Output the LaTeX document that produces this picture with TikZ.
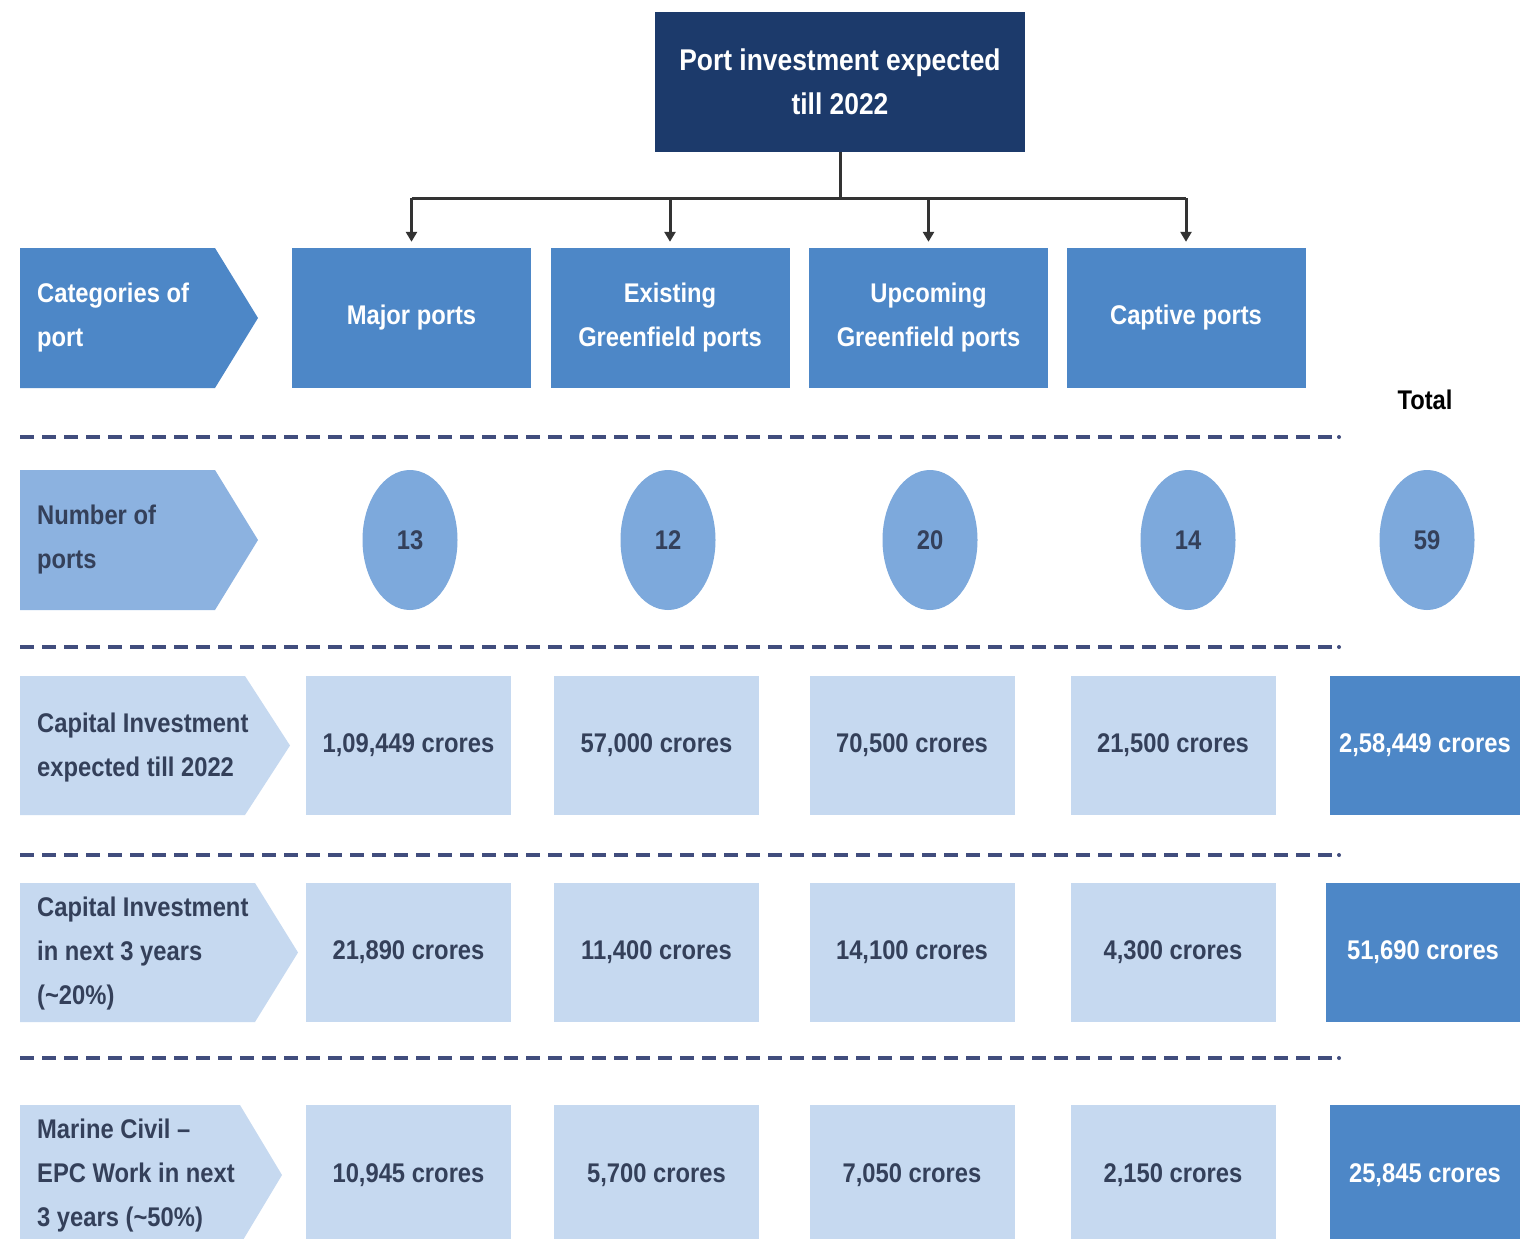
\documentclass[tikz,border=0pt]{standalone}
\usepackage{fontspec}
\setmainfont{Liberation Sans}[FakeStretch=0.88]
\usetikzlibrary{shapes.geometric,arrows.meta}
\definecolor{navy}{HTML}{1C3A6B}
\definecolor{midblue}{HTML}{4D87C7}
\definecolor{rowtwo}{HTML}{8CB2E0}
\definecolor{ellblue}{HTML}{7DA9DC}
\definecolor{lightblue}{HTML}{C6D9F0}
\definecolor{darktxt}{HTML}{34405A}
\definecolor{dashcol}{HTML}{414D7D}
\definecolor{conn}{HTML}{333333}
\begin{document}
\begin{tikzpicture}[x=1pt,y=-1pt,
  font=\fontsize{27}{44}\selectfont\bfseries,
  topbox/.style={fill=navy,text=white,minimum width=370pt,minimum height=140pt,align=center,inner sep=0pt,font=\fontsize{30}{44}\selectfont\bfseries},
  catbox/.style={fill=midblue,text=white,minimum width=239pt,minimum height=140pt,align=center,inner sep=0pt},
  numell/.style={ellipse,fill=ellblue,text=darktxt,minimum width=95pt,minimum height=140pt,inner sep=0pt},
  databox/.style={fill=lightblue,text=darktxt,minimum width=205pt,minimum height=139pt,inner sep=0pt},
  totbox/.style={fill=midblue,text=white,minimum height=139pt,inner sep=0pt},
  rowlbl/.style={anchor=west,align=left,inner sep=0pt},
  sep/.style={dashcol,line width=4pt,dash pattern=on 14pt off 8pt},
  conline/.style={conn,line width=3pt},
  conarrow/.style={conn,line width=3pt,-{Triangle[length=10pt,width=11pt]},shorten >=6pt}
]
\useasboundingbox (0,0) rectangle (1520,1239);
\fill[white] (0,0) rectangle (1520,1239);

% top
\node[topbox] (top) at (840,82) {Port investment expected\\till 2022};

% categories row
\fill[midblue] (20,248) -- (215,248) -- (258,318) -- (215,388) -- (20,388) -- cycle;
\node[rowlbl,text=white] (catlbl) at (37,318) {Categories of\\port};
\node[catbox] (major) at (411.5,318) {Major ports};
\node[catbox] (existing) at (670,318) {Existing\\Greenfield ports};
\node[catbox] (upcoming) at (928.5,318) {Upcoming\\Greenfield ports};
\node[catbox] (captive) at (1186,318) {Captive ports};

\coordinate (junc) at (840,198);
\draw[conline] (top.south) -- (junc);
\draw[conline] (major.north |- junc) -- (captive.north |- junc);
\foreach \n in {major,existing,upcoming,captive}
  \draw[conarrow] (\n.north |- junc) -- (\n.north);

\node (total) at (1425,400) {Total};

\draw[sep] (20,437) -- (1336,437);
\fill[dashcol] (1339,437) circle (2pt);

% number row
\fill[rowtwo] (20,470) -- (215,470) -- (258,540) -- (215,610) -- (20,610) -- cycle;
\node[rowlbl,text=darktxt] (numlbl) at (37,540) {Number of\\ports};
\node[numell] (n1) at (410,540) {13};
\node[numell] (n2) at (668,540) {12};
\node[numell] (n3) at (930,540) {20};
\node[numell] (n4) at (1188,540) {14};
\node[numell] (n5) at (1427,540) {59};

\draw[sep] (20,647) -- (1336,647);
\fill[dashcol] (1339,647) circle (2pt);

% capital investment row
\fill[lightblue] (20,676) -- (245,676) -- (290,745.5) -- (245,815) -- (20,815) -- cycle;
\node[rowlbl,text=darktxt] (capl) at (37,748) {Capital Investment\\expected till 2022};
\node[databox] (c1) at (408.5,745.5) {1,09,449 crores};
\node[databox] (c2) at (656.5,745.5) {57,000 crores};
\node[databox] (c3) at (912,745.5) {70,500 crores};
\node[databox] (c4) at (1173,745.5) {21,500 crores};
\node[totbox,minimum width=190pt] (ct) at (1425,745.5) {2,58,449 crores};

\draw[sep] (20,855) -- (1336,855);
\fill[dashcol] (1339,855) circle (2pt);

% next 3 years row
\fill[lightblue] (20,883) -- (255,883) -- (298,952.5) -- (255,1022) -- (20,1022) -- cycle;
\node[rowlbl,text=darktxt] (nxl) at (37,954) {Capital Investment\\in next 3 years\\(\textasciitilde20\%)};
\node[databox] (d1) at (408.5,952.5) {21,890 crores};
\node[databox] (d2) at (656.5,952.5) {11,400 crores};
\node[databox] (d3) at (912,952.5) {14,100 crores};
\node[databox] (d4) at (1173,952.5) {4,300 crores};
\node[totbox,minimum width=194pt] (dt) at (1423,952.5) {51,690 crores};

\draw[sep] (20,1058) -- (1336,1058);
\fill[dashcol] (1339,1058) circle (2pt);

% marine civil row
\fill[lightblue] (20,1105) -- (240,1105) -- (282,1175) -- (240,1245) -- (20,1245) -- cycle;
\node[rowlbl,text=darktxt] (mcl) at (37,1176) {Marine Civil --\\EPC Work in next\\3 years (\textasciitilde50\%)};
\node[databox,minimum height=140pt] (e1) at (408.5,1175) {10,945 crores};
\node[databox,minimum height=140pt] (e2) at (656.5,1175) {5,700 crores};
\node[databox,minimum height=140pt] (e3) at (912,1175) {7,050 crores};
\node[databox,minimum height=140pt] (e4) at (1173,1175) {2,150 crores};
\node[totbox,minimum width=190pt,minimum height=140pt] (et) at (1425,1175) {25,845 crores};
\end{tikzpicture}
\end{document}
